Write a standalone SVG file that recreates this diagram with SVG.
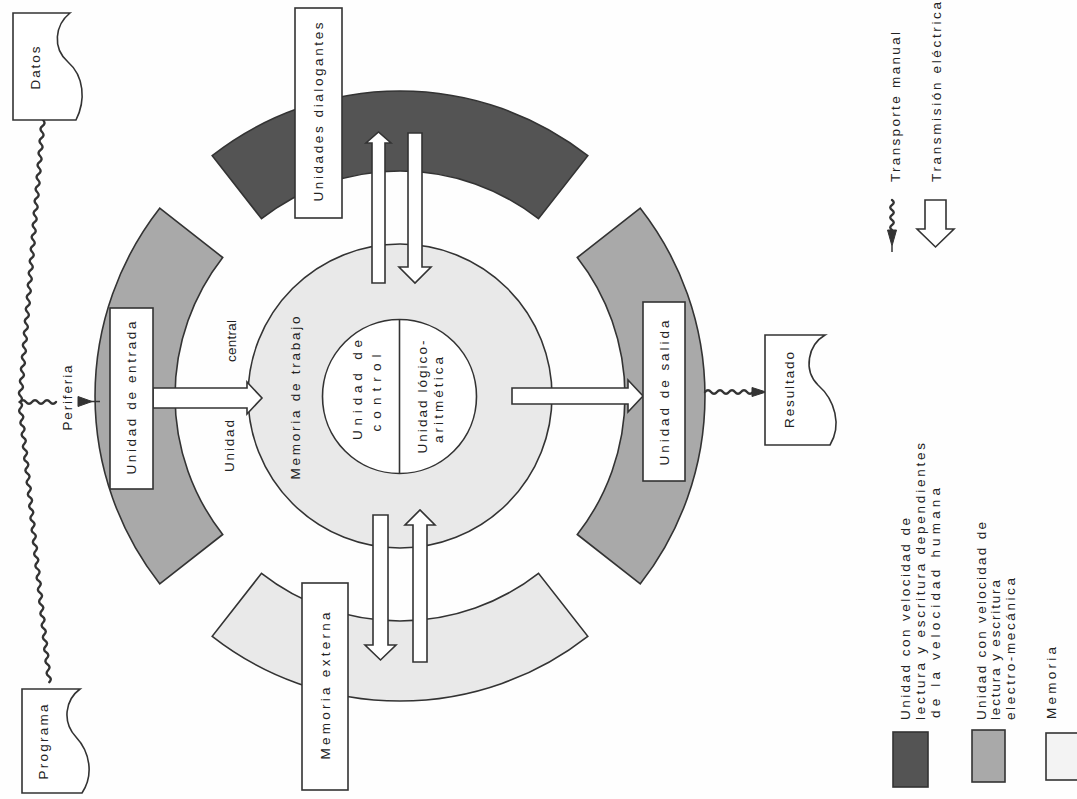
<svg xmlns="http://www.w3.org/2000/svg" width="1077" height="799" viewBox="0 0 1077 799">
<style>
.t{font-family:"Liberation Sans",Arial,sans-serif;font-size:13.5px;fill:#222;text-anchor:middle}
.ts{text-anchor:start}
.box{fill:#fff;stroke:#333;stroke-width:1.6}
.dark{fill:#545454;stroke:#333;stroke-width:1.6}
.mid{fill:#a9a9a9;stroke:#333;stroke-width:1.6}
.light{fill:#e9e9e9;stroke:#333;stroke-width:1.6}
.harrow{fill:#fff;stroke:#333;stroke-width:1.6;stroke-linejoin:miter}
.wave{fill:none;stroke:#333;stroke-width:2.4;stroke-linecap:round}
.head{fill:#333;stroke:#333;stroke-width:1}
.thin{fill:none;stroke:#333;stroke-width:1.5}
</style>
<rect width="1077" height="799" fill="#fefefe"/>

<g id="ring-dialogantes"><path class="dark" d="M212.2 155.7 A305 305 0 0 1 587.8 155.7 L538.5 218.7 A225 225 0 0 0 261.5 218.7 Z"/></g>
<g id="ring-entrada"><path class="mid" d="M159.7 583.8 A305 305 0 0 1 159.7 208.2 L222.7 257.5 A225 225 0 0 0 222.7 534.5 Z"/></g>
<g id="ring-salida"><path class="mid" d="M640.3 208.2 A305 305 0 0 1 640.3 583.8 L577.3 534.5 A225 225 0 0 0 577.3 257.5 Z"/></g>
<g id="ring-externa"><path class="light" d="M587.8 636.3 A305 305 0 0 1 212.2 636.3 L261.5 573.3 A225 225 0 0 0 538.5 573.3 Z"/></g>

<g id="memoria-trabajo">
<circle class="light" cx="400" cy="396" r="152"/>
<text class="t" transform="translate(295,398) rotate(-90)" y="4.8" textLength="163" lengthAdjust="spacing">Memoria de trabajo</text>
</g>

<g id="cpu">
<circle cx="399.5" cy="396.5" r="77" fill="#fff" stroke="#333" stroke-width="1.6"/>
<line x1="399.5" y1="319.5" x2="399.5" y2="473.5" stroke="#333" stroke-width="1.6"/>
<text class="t" transform="translate(357,390) rotate(-90)" y="4.8" textLength="100" lengthAdjust="spacing">Unidad de</text>
<text class="t" transform="translate(376,393) rotate(-90)" y="4.8" textLength="77" lengthAdjust="spacing">control</text>
<text class="t" transform="translate(422,397) rotate(-90)" y="4.8" textLength="113" lengthAdjust="spacing">Unidad lógico-</text>
<text class="t" transform="translate(438,400) rotate(-90)" y="4.8" textLength="86" lengthAdjust="spacing">aritmética</text>
</g>

<g id="unidad-central-label">
<text class="t" transform="translate(229,446) rotate(-90)" y="4.8" textLength="52" lengthAdjust="spacing">Unidad</text>
<text class="t" transform="translate(231,341) rotate(-90)" y="4.8" textLength="42" lengthAdjust="spacing">central</text>
</g>

<g id="connectors">
<polygon class="harrow" points="153,388 247,388 247,382 262,398 247,414 247,408 153,408"/>
<polygon class="harrow" points="512,388 628,388 628,380 643,396 628,412 628,404 512,404"/>
<polygon class="harrow" points="372,283 372,143 366,143 378.5,132 391,143 385,143 385,283"/>
<polygon class="harrow" points="408,133 422,133 422,267 431,267 415,283 399,267 408,267"/>
<polygon class="harrow" points="373,515 388,515 388,645 396,645 380.5,660 365,645 373,645"/>
<polygon class="harrow" points="413,662 413,525 405,525 420,510 435,525 427,525 427,662"/>
<path class="wave" d="M43 120 q3.3 3.3 -.49 6 t-.49 6 -.49 6 -.49 6 -.49 6 -.49 6 -.49 6 -.49 6 -.49 6 -.49 6 -.49 6 -.49 6 -.49 6 -.49 6 -.49 6 -.49 6 -.49 6 -.49 6 -.49 6 -.49 6 -.49 6 -.49 6 -.49 6 -.49 6 -.49 6 -.49 6 -.49 6 -.49 6 -.49 6 -.49 6 -.49 6 -.49 6 -.49 6 -.49 6 -.49 6 -.49 6 -.49 6 -.49 6 -.49 6 -.49 6 -.49 6 -.49 6 -.49 6 -.49 6 -.49 6 -.49 6 -.49 6 q3.8 2.6 .625 5.96 t.625 5.96 .625 5.96 .625 5.96 .625 5.96 .625 5.96 .625 5.96 .625 5.96 .625 5.96 .625 5.96 .625 5.96 .625 5.96 .625 5.96 .625 5.96 .625 5.96 .625 5.96 .625 5.96 .625 5.96 .625 5.96 .625 5.96 .625 5.96 .625 5.96 .625 5.96 .625 5.96 .625 5.96 .625 5.96 .625 5.96 .625 5.96 .625 5.96 .625 5.96 .625 5.96 .625 5.96 .625 5.96 .625 5.96 .625 5.96 .625 5.96 .625 5.96 .625 5.96 .625 5.96 .625 5.96 .625 5.96 .625 5.96 .625 5.96 .625 5.96 .625 5.96 .625 5.96 .625 5.96"/>
<path class="wave" d="M20 402 q3 -3.5 6 0 t6 0 6 0 6 0 6 0 6 0"/>
<polygon class="head" points="78,396.5 78,406.5 92,401.5"/>
<line class="thin" x1="78" y1="401.5" x2="100" y2="401.5"/>
<path class="wave" d="M705 392 q3 -3.5 6 0 t6 0 6 0 6 0 6 0 6 0 6 0 6 0"/>
<polygon class="head" points="752,387.5 752,396.5 766,392"/>
</g>

<g id="unidades-dialogantes">
<rect class="box" x="295" y="8" width="47" height="210"/>
<text class="t" transform="translate(318,112) rotate(-90)" y="4.8" textLength="179" lengthAdjust="spacing">Unidades dialogantes</text>
</g>
<g id="unidad-entrada">
<rect class="box" x="110" y="308" width="43" height="181"/>
<text class="t" transform="translate(131,398) rotate(-90)" y="4.8" textLength="153" lengthAdjust="spacing">Unidad de entrada</text>
</g>
<g id="unidad-salida">
<rect class="box" x="643" y="302" width="42" height="179"/>
<text class="t" transform="translate(664,393) rotate(-90)" y="4.8" textLength="145" lengthAdjust="spacing">Unidad de salida</text>
</g>
<g id="memoria-externa">
<rect class="box" x="302" y="583" width="46" height="207"/>
<text class="t" transform="translate(325,686) rotate(-90)" y="4.8" textLength="147" lengthAdjust="spacing">Memoria externa</text>
</g>

<g id="datos">
<path class="box" d="M13 13 L70 13 C55 25 52 48 68 62 C84 76 86 100 76 120 L13 120 Z"/>
<text class="t" transform="translate(35,68) rotate(-90)" y="4.8" textLength="43" lengthAdjust="spacing">Datos</text>
</g>
<g id="programa">
<path class="box" d="M22 689 L80 689 C65 700 62 722 76 737 C90 752 94 775 82 793 L22 793 Z"/>
<text class="t" transform="translate(43,742) rotate(-90)" y="4.8" textLength="75" lengthAdjust="spacing">Programa</text>
</g>
<g id="resultado">
<path class="box" d="M765 335 L825 335 C808 345 803 370 818 385 C835 400 842 425 830 445 L765 445 Z"/>
<text class="t" transform="translate(789,390) rotate(-90)" y="4.8" textLength="76" lengthAdjust="spacing">Resultado</text>
</g>
<g id="periferia">
<text class="t" transform="translate(67,398) rotate(-90)" y="4.8" textLength="65" lengthAdjust="spacing">Periferia</text>
</g>

<g id="legend">
<path class="wave" d="M892 200 q3.5 2.5 0 5 t0 5 0 5 0 5 0 5 0 5"/>
<polygon class="head" points="887.5,230 896.5,230 892,246"/>
<line class="thin" x1="892" y1="246" x2="892" y2="252"/>
<text class="t ts" transform="translate(895,182) rotate(-90)" y="4.8" textLength="150" lengthAdjust="spacing">Transporte manual</text>
<polygon class="harrow" points="925,200 946,200 946,229 954,229 935.5,247 917,229 925,229"/>
<text class="t ts" transform="translate(936,182) rotate(-90)" y="4.8" textLength="180" lengthAdjust="spacing">Transmisión eléctrica</text>
<rect x="893" y="732" width="35" height="55" fill="#545454" stroke="#333" stroke-width="1.6"/>
<text class="t ts" transform="translate(905,720) rotate(-90)" y="4.8" textLength="202" lengthAdjust="spacing">Unidad con velocidad de</text>
<text class="t ts" transform="translate(920,720) rotate(-90)" y="4.8" textLength="277" lengthAdjust="spacing">lectura y escritura dependientes</text>
<text class="t ts" transform="translate(935,718) rotate(-90)" y="4.8" textLength="230" lengthAdjust="spacing">de la velocidad humana</text>
<rect x="972" y="730" width="33" height="52" fill="#a9a9a9" stroke="#333" stroke-width="1.6"/>
<text class="t ts" transform="translate(981,720) rotate(-90)" y="4.8" textLength="198" lengthAdjust="spacing">Unidad con velocidad de</text>
<text class="t ts" transform="translate(995,720) rotate(-90)" y="4.8" textLength="140" lengthAdjust="spacing">lectura y escritura</text>
<text class="t ts" transform="translate(1010,720) rotate(-90)" y="4.8" textLength="142" lengthAdjust="spacing">electro-mecánica</text>
<rect x="1046" y="733" width="40" height="47" fill="#f3f3f3" stroke="#333" stroke-width="1.6"/>
<text class="t ts" transform="translate(1051,719) rotate(-90)" y="4.8" textLength="72" lengthAdjust="spacing">Memoria</text>
</g>
</svg>
